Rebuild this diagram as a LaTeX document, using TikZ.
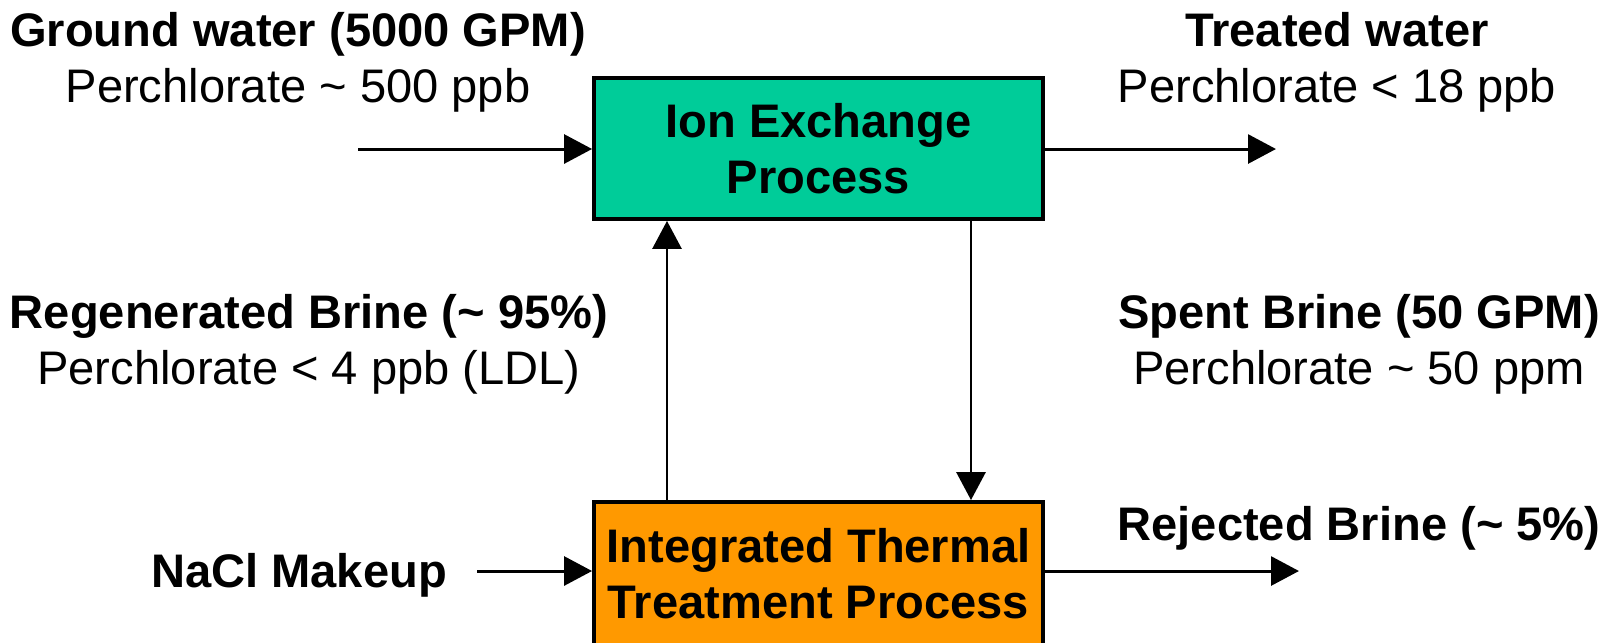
\documentclass[tikz,border=0pt]{standalone}
\usepackage{fontspec}
\setmainfont{Liberation Sans}
\usetikzlibrary{arrows.meta}
\definecolor{ionteal}{HTML}{00CC99}
\definecolor{thermorange}{HTML}{FF9900}
\begin{document}
\begin{tikzpicture}[x=0.1mm,y=-0.1mm,
  every node/.style={font=\fontsize{13.4}{16}\selectfont},
  procbox/.style={draw, line width=1.1pt, align=center, minimum width=44.9mm, inner sep=0pt,
    font=\fontsize{13.4}{16}\selectfont\bfseries},
  lbl/.style={align=center, inner sep=0pt},
  flow/.style={-{Triangle[length=2.8mm,width=2.9mm]}, line width=0.85pt}]
\useasboundingbox (0,0) rectangle (1614,642);

\node[procbox, fill=ionteal, minimum height=14.1mm] (iex) at (818.5,148.5)
{Ion Exchange\\Process};

\node[procbox, fill=thermorange, minimum height=14.4mm] (itt) at (818.5,574)
{Integrated Thermal\\Treatment Process};

\node[lbl] (gw) at (298,62)
{\textbf{Ground water (5000 GPM)}\\Perchlorate \textasciitilde{} 500 ppb};

\node[lbl] (tw) at (1337,62)
{\textbf{Treated water}\\Perchlorate < 18 ppb};

\node[lbl] (regen) at (309,344)
{\textbf{Regenerated Brine (\textasciitilde{} 95\%)}\\Perchlorate < 4 ppb (LDL)};

\node[lbl] (spent) at (1359,344)
{\textbf{Spent Brine (50 GPM)}\\Perchlorate \textasciitilde{} 50 ppm};

\node[lbl, font=\fontsize{13.4}{16}\selectfont\bfseries] (nacl) at (299,575) {NaCl Makeup};

\node[lbl, font=\fontsize{13.4}{16}\selectfont\bfseries] (rej) at (1359,528) {Rejected Brine (\textasciitilde{} 5\%)};

\coordinate (gwin) at (358,149);
\coordinate (twout) at (1276,149);
\coordinate (upx) at (667,0);
\coordinate (downx) at (971,0);
\coordinate (naclin) at (477,571);
\coordinate (rejout) at (1299,571);

\draw[flow] (gwin) -- (gwin -| iex.west);
\draw[flow] (twout -| iex.east) -- (twout);
\draw[flow] (upx |- itt.north) -- (upx |- iex.south);
\draw[flow] (downx |- iex.south) -- (downx |- itt.north);
\draw[flow] (naclin) -- (naclin -| itt.west);
\draw[flow] (rejout -| itt.east) -- (rejout);
\end{tikzpicture}
\end{document}
